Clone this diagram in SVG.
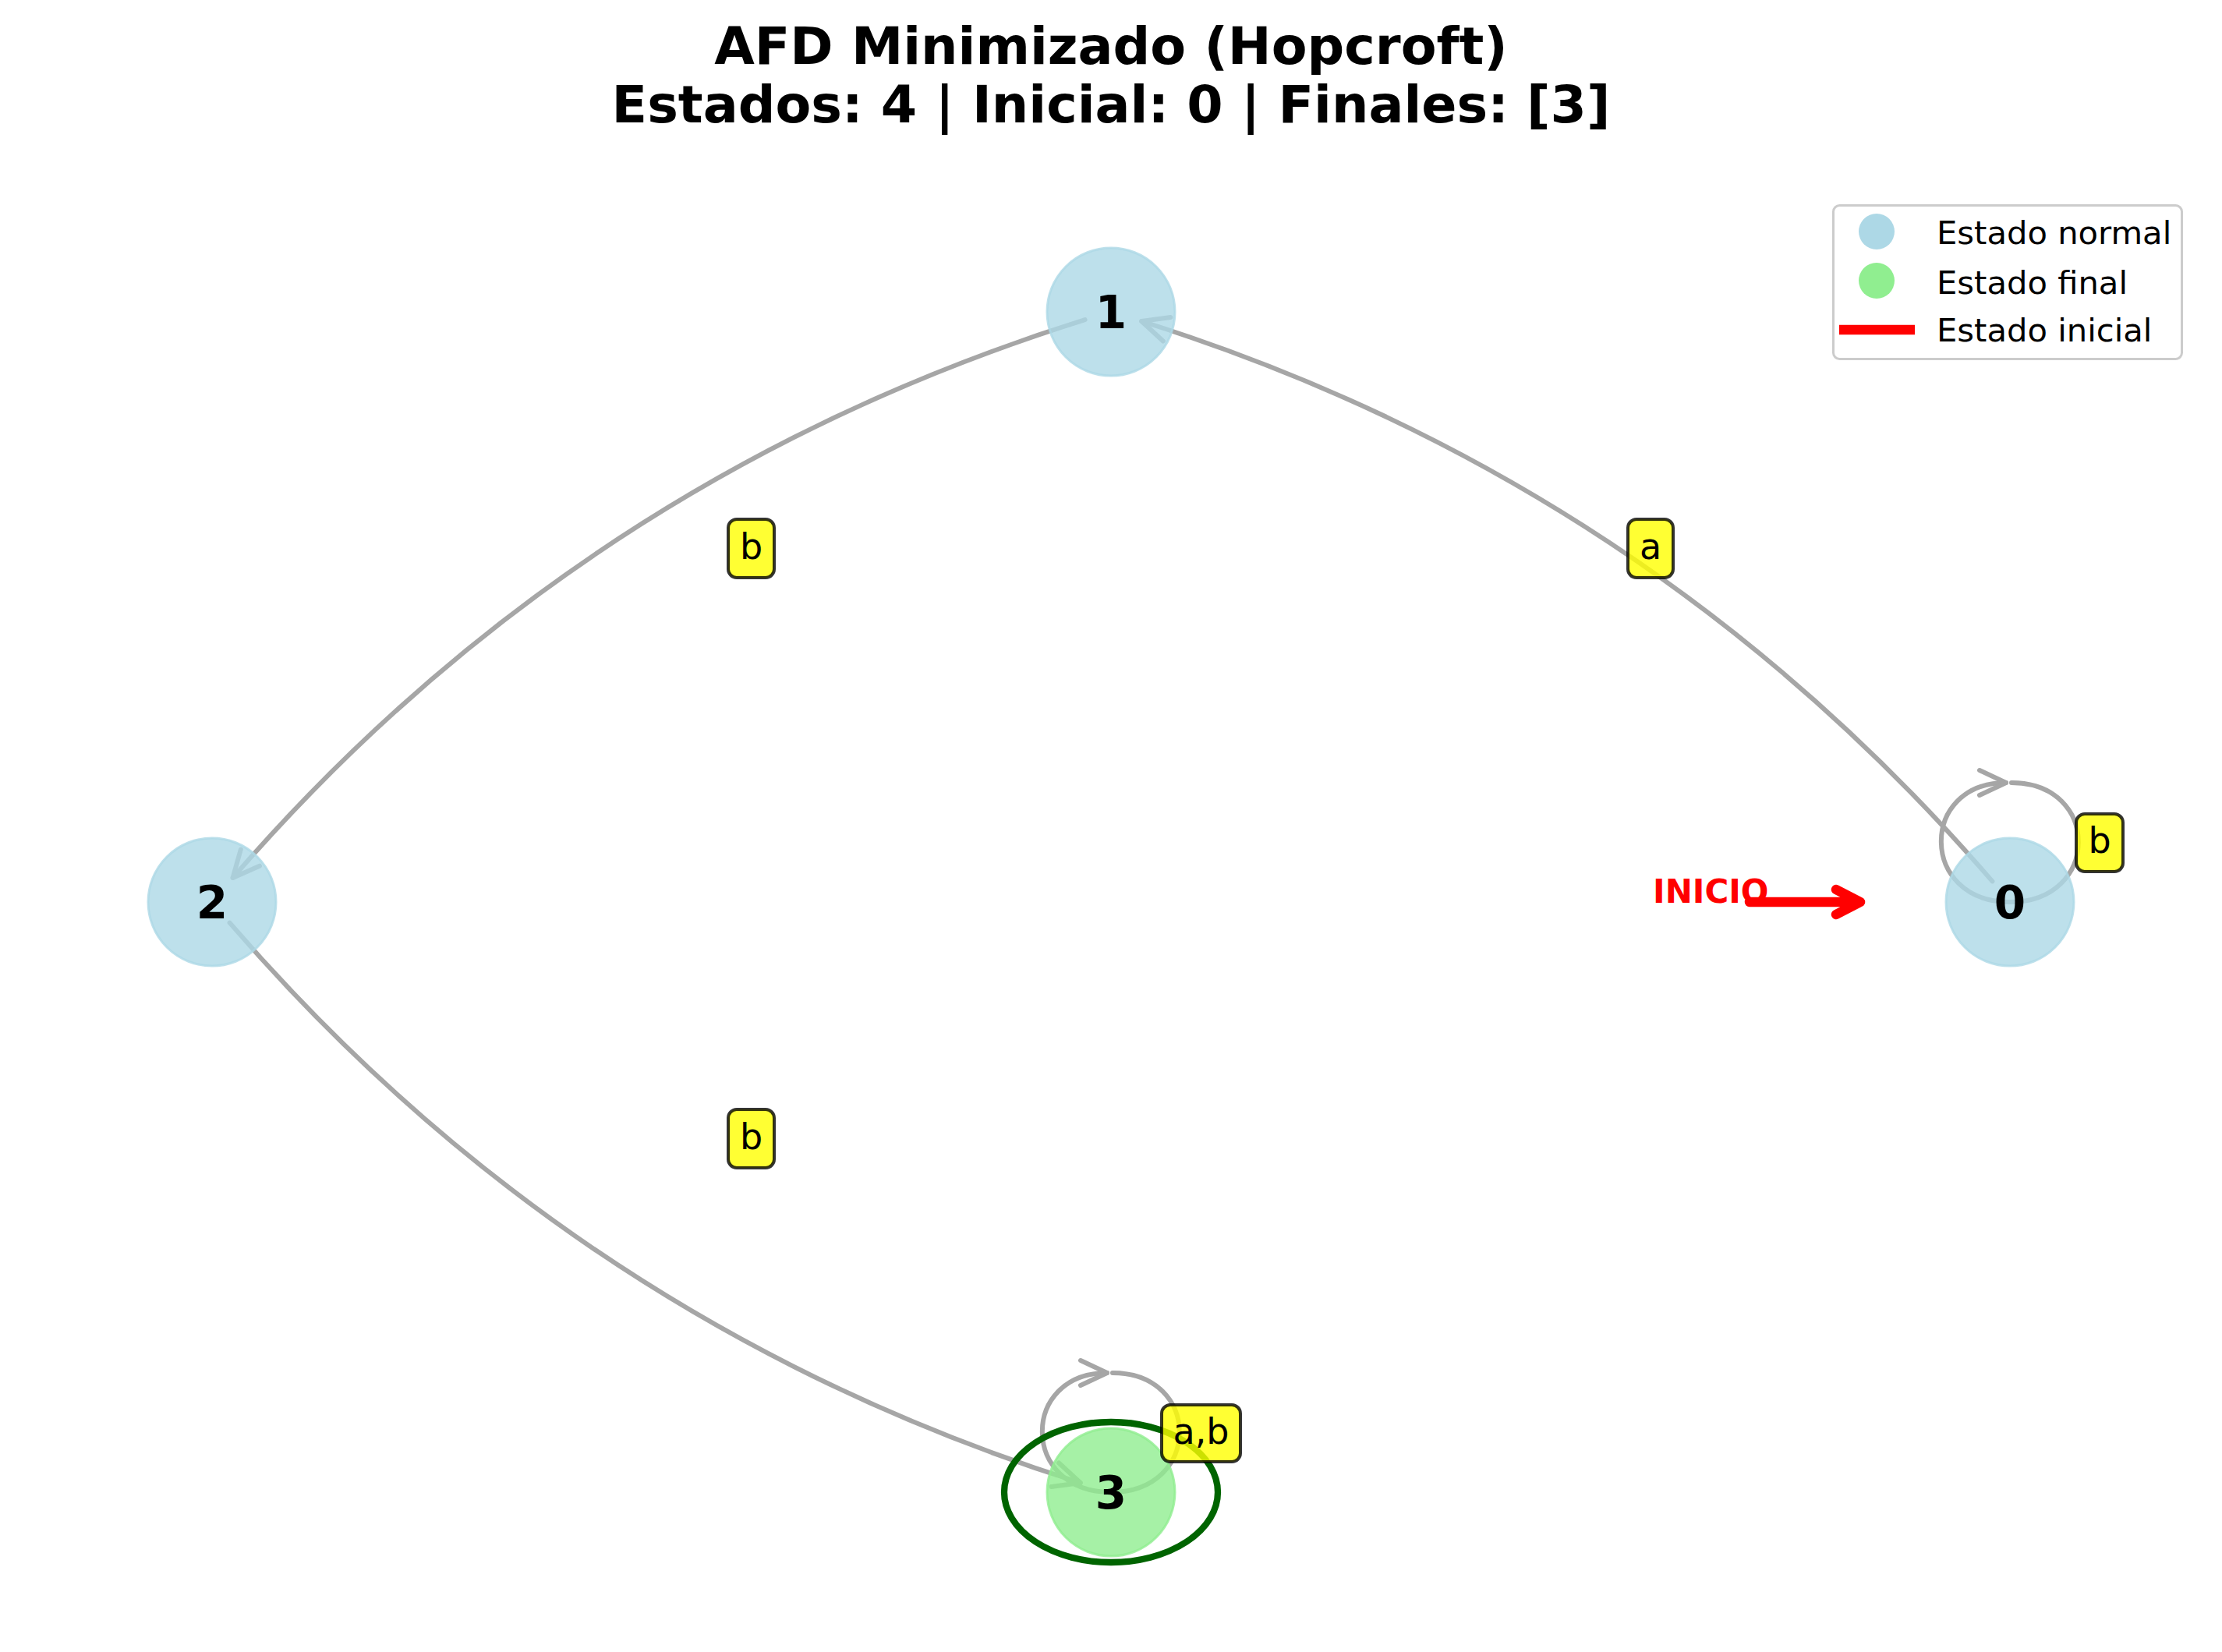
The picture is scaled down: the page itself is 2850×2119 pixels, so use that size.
<svg xmlns="http://www.w3.org/2000/svg" width="2850" height="2119" viewBox="0 0 2850 2119">
<defs>
<style>
text { font-family: "DejaVu Sans", "Liberation Sans", sans-serif; }
.title { font-size: 66.7px; font-weight: bold; text-anchor: middle; fill: #000000; }
.edge { fill: none; stroke: #a6a6a6; stroke-width: 6; stroke-linecap: round; marker-end: url(#ah); }
.node-n { fill: #add8e6; fill-opacity: 0.8; stroke: #add8e6; stroke-opacity: 0.8; stroke-width: 3; }
.node-f { fill: #90ee90; fill-opacity: 0.8; stroke: #90ee90; stroke-opacity: 0.8; stroke-width: 3; }
.nlabel { font-size: 58px; font-weight: bold; text-anchor: middle; fill: #000000; }
.lbox { fill: #ffff00; fill-opacity: 0.8; stroke: #000000; stroke-opacity: 0.8; stroke-width: 4; }
.ltext { font-size: 46px; text-anchor: middle; fill: #000000; }
.legtext { font-size: 41.7px; fill: #000000; }
</style>
<marker id="ah" markerUnits="userSpaceOnUse" viewBox="-40 -20 44 40" refX="0" refY="0" markerWidth="44" markerHeight="40" orient="auto" overflow="visible">
<path d="M-34,-16 L0,0 L-34,16" fill="none" stroke="#a6a6a6" stroke-width="6" stroke-linecap="round" stroke-linejoin="round"/>
</marker>
</defs>
<rect x="0" y="0" width="2850" height="2119" fill="#ffffff"/>

<g id="title">
<text class="title" x="1425" y="82">AFD Minimizado (Hopcroft)</text>
<text class="title" x="1425" y="157">Estados: 4 | Inicial: 0 | Finales: [3]</text>
</g>

<g id="connectors">
<path id="e_1_2" class="edge" d="M1391.6,410.2 Q743.2,612.8 298.6,1125.9"/>
<path id="e_0_1" class="edge" d="M2555.4,1130.4 Q2111.7,616.0 1464.2,412.0"/>
<path id="e_2_3" class="edge" d="M294.6,1183.6 Q738.3,1698.0 1385.8,1902.0"/>
<path id="e_0_0" class="edge" d="M2580,1004 C2694.7,1004 2694.7,1157 2578,1157 C2461.3,1157 2461.3,1004 2573,1004"/>
<path id="e_3_3" class="edge" d="M1427,1761 C1541.7,1761 1541.7,1914 1425,1914 C1308.3,1914 1308.3,1761 1420,1761"/>
</g>

<g id="node-1">
<circle class="node-n" cx="1425" cy="400" r="82"/>
<text class="nlabel" x="1425" y="421">1</text>
</g>
<g id="node-2">
<circle class="node-n" cx="272" cy="1157" r="82"/>
<text class="nlabel" x="272" y="1178">2</text>
</g>
<g id="node-0">
<circle class="node-n" cx="2578" cy="1157" r="82"/>
<text class="nlabel" x="2578" y="1178">0</text>
</g>
<g id="node-3">
<circle class="node-f" cx="1425" cy="1914" r="82"/>
<ellipse cx="1425" cy="1914" rx="137" ry="90" fill="none" stroke="#006400" stroke-width="8.3"/>
<text class="nlabel" x="1425" y="1935">3</text>
</g>

<g id="edge-labels">
<rect class="lbox" x="2088" y="666" width="58" height="75" rx="11"/>
<text class="ltext" x="2117" y="716.5">a</text>
<rect class="lbox" x="934" y="666" width="59" height="75" rx="11"/>
<text class="ltext" x="963.5" y="717">b</text>
<rect class="lbox" x="934" y="1423" width="59" height="75" rx="11"/>
<text class="ltext" x="963.5" y="1474">b</text>
<rect class="lbox" x="2663" y="1044" width="60" height="74" rx="11"/>
<text class="ltext" x="2693" y="1094">b</text>
<rect class="lbox" x="1490" y="1802" width="101" height="73" rx="11"/>
<text class="ltext" x="1540.5" y="1851.5">a,b</text>
</g>

<g id="start-marker">
<text x="2120" y="1158" font-size="42" font-weight="bold" fill="#ff0000">INICIO</text>
<path d="M2244,1157 L2386,1157 M2355,1141 L2386,1157 L2355,1173" fill="none" stroke="#ff0000" stroke-width="12.5" stroke-linecap="round" stroke-linejoin="round"/>
</g>

<g id="legend">
<rect x="2351.5" y="263.5" width="447" height="197" rx="8" fill="#ffffff" fill-opacity="0.8" stroke="#cccccc" stroke-width="3"/>
<circle cx="2407" cy="297" r="23" fill="#add8e6"/>
<text class="legtext" x="2484" y="313">Estado normal</text>
<circle cx="2407" cy="360" r="23" fill="#90ee90"/>
<text class="legtext" x="2484" y="377">Estado final</text>
<line x1="2359" y1="423" x2="2456" y2="423" stroke="#ff0000" stroke-width="12.5"/>
<text class="legtext" x="2484" y="438">Estado inicial</text>
</g>
</svg>
